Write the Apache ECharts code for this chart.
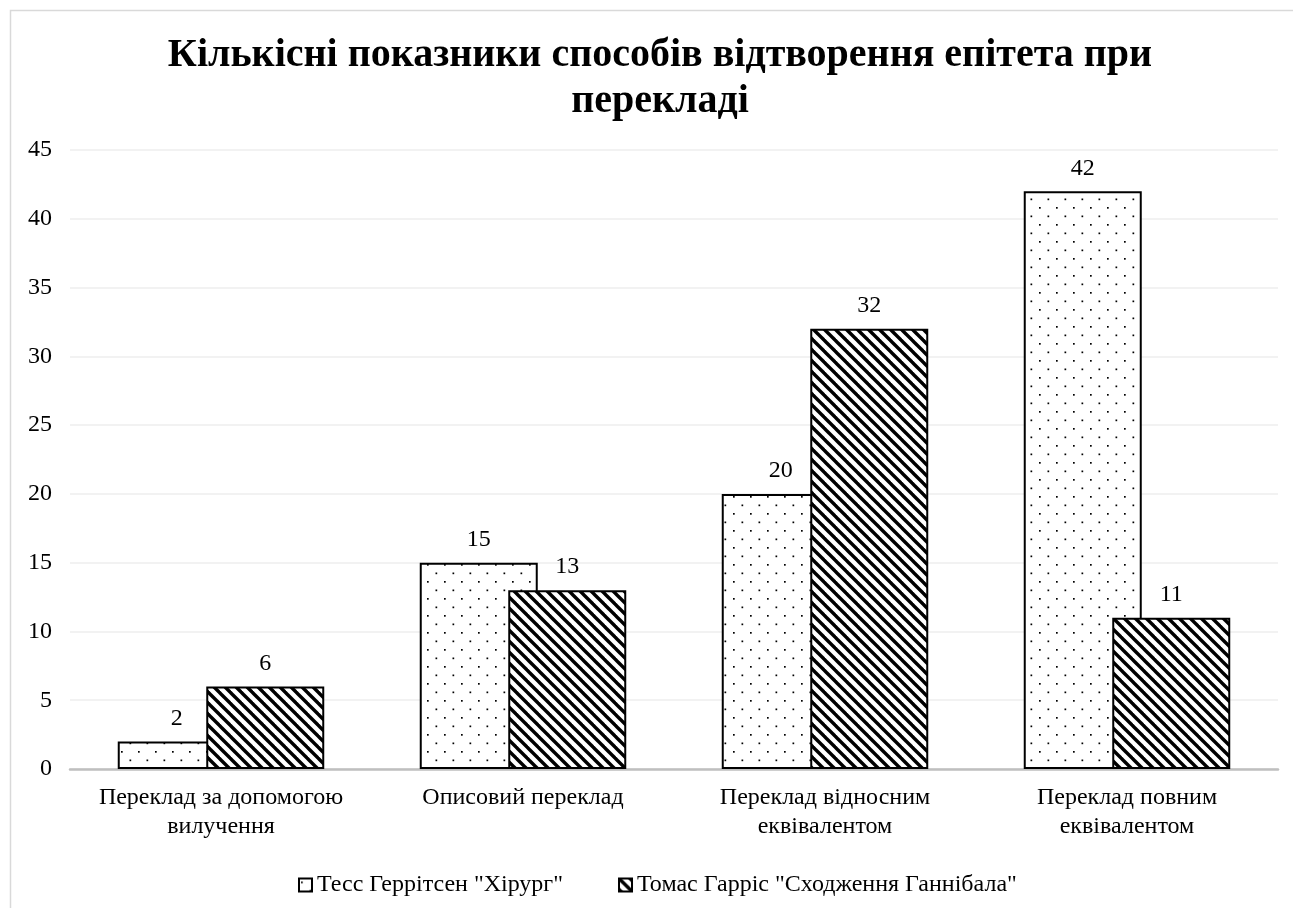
<!DOCTYPE html>
<html><head><meta charset="utf-8">
<script src="https://cdn.jsdelivr.net/npm/echarts@6/dist/echarts.min.js"></script>
<style>html,body{margin:0;padding:0;background:#fff}#c{width:1293px;height:908px}</style>
</head><body><div id="c"></div>
<script>
const categories = ['Переклад за допомогою\nвилучення', 'Описовий переклад', 'Переклад відносним\nеквівалентом', 'Переклад повним\nеквівалентом'];
const seriesNames = ['Тесс Геррітсен "Хірург"', 'Томас Гарріс "Сходження Ганнібала"'];
const tessValues = [2, 15, 20, 42];
const harrisValues = [6, 13, 32, 11];
const yTicks = {min: 0, max: 45, interval: 5};
const titleText = 'Кількісні показники способів відтворення епітета при\nперекладі';

function dotPattern() {
  const c = document.createElement('canvas');
  c.width = 17; c.height = 17;
  const g = c.getContext('2d');
  g.fillStyle = '#fff'; g.fillRect(0, 0, 17, 17);
  g.fillStyle = '#000';
  g.fillRect(2, 3, 1.7, 1.7);
  g.fillRect(10.5, 11.5, 1.7, 1.7);
  return c;
}
function hatchPattern() {
  const s = 11;
  const c = document.createElement('canvas');
  c.width = s; c.height = s;
  const g = c.getContext('2d');
  g.fillStyle = '#fff'; g.fillRect(0, 0, s, s);
  g.strokeStyle = '#000'; g.lineWidth = 3.4;
  for (let k = -1; k <= 1; k++) {
    g.beginPath();
    g.moveTo(k * s - 2, -2);
    g.lineTo(k * s + s + 2, s + 2);
    g.stroke();
  }
  return c;
}
const FONT = "'Liberation Serif', 'Times New Roman', serif";
const chart = echarts.init(document.getElementById('c'), null, {renderer: 'canvas'});
const labelCfg = {show: true, position: 'top', distance: 11, fontFamily: FONT, fontSize: 24, color: '#000'};
chart.setOption({
  animation: false,
  backgroundColor: '#fff',
  graphic: [{type: 'rect', shape: {x: 10.5, y: 10.5, width: 1300, height: 920}, style: {fill: 'none', stroke: '#d9d9d9', lineWidth: 1.5}, silent: true}],
  title: {
    text: titleText,
    left: 655, top: 28, textAlign: 'center',
    textStyle: {fontFamily: FONT, fontSize: 40, fontWeight: 'bold', color: '#000', lineHeight: 46}
  },
  legend: {
    top: 868, left: 293,
    itemWidth: 13, itemHeight: 13, itemGap: 55,
    icon: 'rect',
    textStyle: {fontFamily: FONT, fontSize: 24, color: '#000'},
    data: seriesNames
  },
  grid: {left: 70, right: 15, top: 150, bottom: 139, containLabel: false},
  xAxis: {
    type: 'category', data: categories,
    axisLine: {lineStyle: {color: '#bfbfbf', width: 2.5}},
    axisTick: {show: false},
    axisLabel: {interval: 0, fontFamily: FONT, fontSize: 24, color: '#000', margin: 14, lineHeight: 29}
  },
  yAxis: {
    type: 'value', min: yTicks.min, max: yTicks.max, interval: yTicks.interval,
    axisLine: {show: false}, axisTick: {show: false},
    splitLine: {lineStyle: {color: '#eeeeee', width: 1.5}},
    axisLabel: {fontFamily: FONT, fontSize: 24, color: '#000', margin: 18}
  },
  series: [
    {name: seriesNames[0], type: 'bar', data: tessValues, barWidth: 118, barGap: '-25%',
     itemStyle: {color: {image: dotPattern(), repeat: 'repeat'}, borderColor: '#000', borderWidth: 2},
     label: labelCfg},
    {name: seriesNames[1], type: 'bar', data: harrisValues, barWidth: 118,
     itemStyle: {color: {image: hatchPattern(), repeat: 'repeat'}, borderColor: '#000', borderWidth: 2},
     label: labelCfg}
  ]
});
</script></body></html>
